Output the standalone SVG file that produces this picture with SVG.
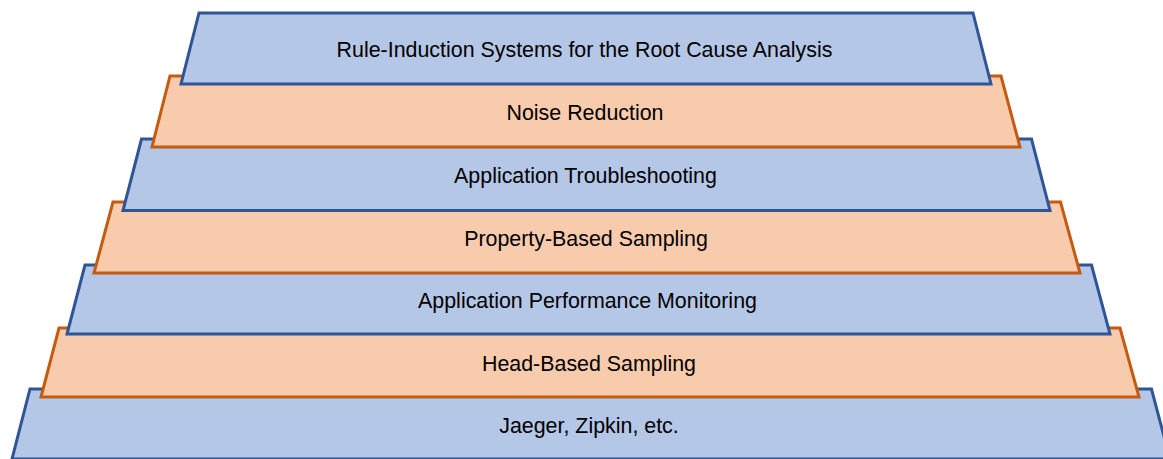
<svg xmlns="http://www.w3.org/2000/svg" width="1163" height="459" viewBox="0 0 1163 459">
  <style>
    .blue { fill: #B4C7E7; stroke: #2F5597; stroke-width: 3; stroke-linejoin: miter; }
    .orange { fill: #F8CBAD; stroke: #C55A11; stroke-width: 3; stroke-linejoin: miter; }
    .label { font-family: "Liberation Sans", Arial, sans-serif; font-size: 21.4px; fill: #000; text-anchor: middle; }
  </style>
  <rect width="1163" height="459" fill="#FFFFFF"/>
  <!-- Layers drawn bottom-up so each upper layer overlaps the one beneath it -->
  <g id="connectors"/>
  <g id="layer7">
    <polygon class="blue" points="30,389 1151.5,389 1170,459 12,459"/>
    <text class="label" x="589" y="433">Jaeger, Zipkin, etc.</text>
  </g>
  <g id="layer6">
    <polygon class="orange" points="59,328 1120,328 1139,397 41,397"/>
    <text class="label" x="589" y="371">Head-Based Sampling</text>
  </g>
  <g id="layer5">
    <polygon class="blue" points="85,265 1091.5,265 1110,334 67,334"/>
    <text class="label" x="587.5" y="308">Application Performance Monitoring</text>
  </g>
  <g id="layer4">
    <polygon class="orange" points="113,202 1060.5,202 1080,273 94,273"/>
    <text class="label" x="586" y="246">Property-Based Sampling</text>
  </g>
  <g id="layer3">
    <polygon class="blue" points="141.5,139 1031.5,139 1050,210.5 123,210.5"/>
    <text class="label" x="585.5" y="183">Application Troubleshooting</text>
  </g>
  <g id="layer2">
    <polygon class="orange" points="170,76 1001,76 1020,147 152,147"/>
    <text class="label" x="585" y="120">Noise Reduction</text>
  </g>
  <g id="layer1">
    <polygon class="blue" points="199,13 973,13 991,84 181,84"/>
    <text class="label" x="584.5" y="57">Rule-Induction Systems for the Root Cause Analysis</text>
  </g>
</svg>
